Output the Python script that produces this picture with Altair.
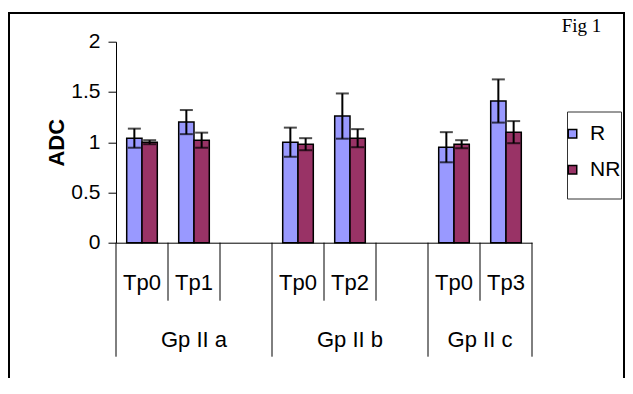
import altair as alt
import pandas as pd

# ---- data ----
groups = ["Gp II a", "Gp II a", "Gp II b", "Gp II b", "Gp II c", "Gp II c"]
timepoints = ["Tp0", "Tp1", "Tp0", "Tp2", "Tp0", "Tp3"]
r_values = [1.04, 1.20, 1.00, 1.26, 0.95, 1.41]
r_errors = [0.095, 0.12, 0.145, 0.225, 0.15, 0.215]
nr_values = [1.00, 1.02, 0.98, 1.04, 0.98, 1.10]
nr_errors = [0.02, 0.075, 0.06, 0.09, 0.04, 0.11]
series_names = ["R", "NR"]
series_colors = ["#9999FF", "#993366"]
group_names = ["Gp II a", "Gp II b", "Gp II c"]
gap_after = ["Gp II a", "Gp II b"]          # empty category after these groups
y_ticks = [0, 0.5, 1, 1.5, 2]
y_title = "ADC"
fig_label = "Fig 1"

# ---- build tables ----
slots = []
for g in group_names:
    for gg, tp in zip(groups, timepoints):
        if gg == g:
            slots.append((f"{g}|{tp}", g, tp))
    if g in gap_after:
        slots.append((f"{g}|gap", g, ""))
slot_keys = [s[0] for s in slots]
n_slots = len(slots)

rows = []
for gg, tp, rv, re_, nv, ne in zip(groups, timepoints, r_values, r_errors, nr_values, nr_errors):
    for s, v, e in (("R", rv, re_), ("NR", nv, ne)):
        rows.append(dict(slot=f"{gg}|{tp}", series=s, value=v, lo=v - e, hi=v + e))
bar_df = pd.DataFrame(rows)
cap_df = pd.concat([
    bar_df[["slot", "series"]].assign(cap=bar_df["lo"]),
    bar_df[["slot", "series"]].assign(cap=bar_df["hi"]),
])

sep_rows = []
for i in range(n_slots + 1):
    if i == 0 or i == n_slots or slots[i][1] != slots[i - 1][1]:
        sep_rows.append(dict(pos=i, level="group"))
    else:
        sep_rows.append(dict(pos=i, level="tp"))
sep_df = pd.DataFrame(sep_rows)

tp_df = pd.DataFrame([dict(pos=i + 0.5, label=s[2]) for i, s in enumerate(slots) if s[2]])
grp_rows = []
for g in group_names:
    idx = [i for i, s in enumerate(slots) if s[1] == g]
    grp_rows.append(dict(pos=(idx[0] + idx[-1] + 1) / 2, label=g))
grp_df = pd.DataFrame(grp_rows)
one = pd.DataFrame({"k": [0]})

# ---- layout ----
W, H = 416, 201
FONT = "Liberation Sans"
xband = alt.Scale(domain=slot_keys, paddingInner=0, paddingOuter=0)
xoff = alt.Scale(domain=series_names, paddingOuter=0.7, paddingInner=0)
yscale = alt.Scale(domain=[0, 2], nice=False)
xq = alt.Scale(domain=[0, n_slots], nice=False, zero=False)

y_axis = alt.Axis(
    values=y_ticks, format="~g", title=y_title, grid=False,
    domainColor="black", domainWidth=1, tickColor="black", tickSize=8, tickWidth=1,
    labelFont=FONT, labelFontSize=21, labelColor="black", labelPadding=8,
    titleFont=FONT, titleFontSize=22, titleFontWeight="bold", titleColor="black",
    titleAngle=270, titleX=-52.7, titleY=100.5, titleAlign="center",
    titleBaseline="alphabetic")


def xb(axis=None):
    if axis is None:
        return alt.X("slot:N", scale=xband, sort=slot_keys, axis=None)
    return alt.X("slot:N", scale=xband, sort=slot_keys, axis=axis)


xo = alt.XOffset("series:N", scale=xoff, sort=series_names)

frame = alt.Chart(one).mark_rect(fillOpacity=0, stroke="black", strokeWidth=2).encode(
    x=alt.value(-107), x2=alt.value(508), y=alt.value(-28.7), y2=alt.value(420)
)
legend_box = alt.Chart(one).mark_rect(fillOpacity=0, stroke="#333333", strokeWidth=1).encode(
    x=alt.value(451.5), x2=alt.value(505.5), y=alt.value(70.3), y2=alt.value(157.3)
)

bars = alt.Chart(bar_df).mark_bar(stroke="black", strokeWidth=1.5).encode(
    x=xb(alt.Axis(labels=False, ticks=False, title=None, domainColor="black",
                  domainWidth=1, grid=False)),
    xOffset=xo,
    y=alt.Y("value:Q", scale=yscale, axis=y_axis),
    color=alt.Color("series:N", sort=series_names,
                    scale=alt.Scale(domain=series_names, range=series_colors),
                    legend=alt.Legend(orient="none", legendX=446, legendY=81.5, title=None,
                                      padding=0, labelFont=FONT, labelFontSize=21,
                                      labelColor="black", symbolType="square", symbolSize=72,
                                      symbolStrokeColor="black", symbolStrokeWidth=1.5,
                                      labelOffset=7, rowPadding=14)),
)

err = alt.Chart(bar_df).mark_rule(color="black", strokeWidth=2).encode(
    x=xb(), xOffset=xo,
    y=alt.Y("lo:Q", scale=yscale, axis=y_axis), y2="hi:Q",
)
caps = alt.Chart(cap_df).mark_tick(color="black", thickness=2, size=13, orient="horizontal").encode(
    x=xb(), xOffset=xo,
    y=alt.Y("cap:Q", scale=yscale, axis=y_axis),
)

sep_tp = alt.Chart(sep_df[sep_df.level == "tp"]).mark_rule(color="black", strokeWidth=1).encode(
    x=alt.X("pos:Q", scale=xq, axis=None), y=alt.value(H), y2=alt.value(H + 58)
)
sep_grp = alt.Chart(sep_df[sep_df.level == "group"]).mark_rule(color="black", strokeWidth=1).encode(
    x=alt.X("pos:Q", scale=xq, axis=None), y=alt.value(H), y2=alt.value(H + 114)
)
tp_text = alt.Chart(tp_df).mark_text(font=FONT, fontSize=22, color="black",
                                     baseline="alphabetic", align="center").encode(
    x=alt.X("pos:Q", scale=xq, axis=None), y=alt.value(248.5), text="label:N"
)
grp_text = alt.Chart(grp_df).mark_text(font=FONT, fontSize=22, color="black",
                                       baseline="alphabetic", align="center").encode(
    x=alt.X("pos:Q", scale=xq, axis=None), y=alt.value(305), text="label:N"
)
fig_text = alt.Chart(pd.DataFrame({"t": [fig_label]})).mark_text(
    font="Liberation Serif", fontSize=19, color="black", baseline="alphabetic", align="left"
).encode(x=alt.value(445.7), y=alt.value(-10), text="t:N")

chart = alt.layer(
    frame, legend_box, bars, err, caps, sep_tp, sep_grp, tp_text, grp_text, fig_text
).resolve_scale(x="independent").properties(
    width=W, height=H,
    padding={"left": 108, "top": 33.7, "right": 93, "bottom": 135.3},
    autosize=alt.AutoSizeParams(type="none"),
).configure_view(stroke=None)

chart.save("out.html", embed_options={"renderer": "svg", "actions": False})
